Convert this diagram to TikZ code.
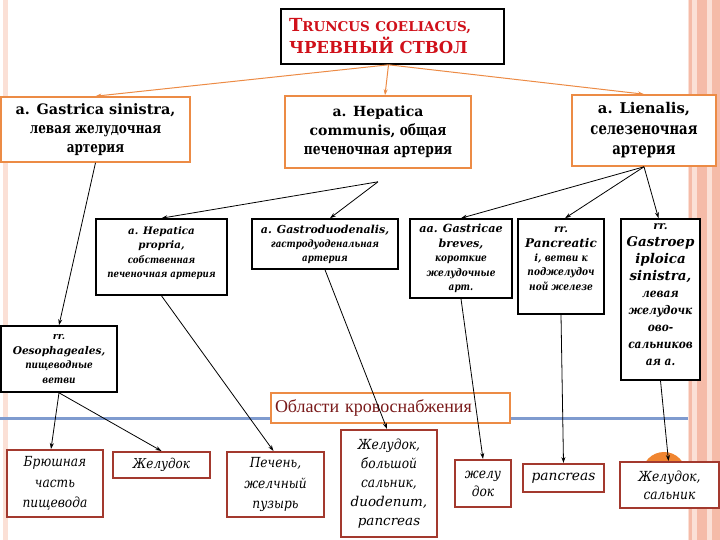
\documentclass[tikz,border=0pt]{standalone}
\usepackage{fontspec}
\setmainfont{DejaVu Serif}
\newfontfamily\libserif{Liberation Serif}
\newfontfamily\cyra{DejaVu Serif}[FakeStretch=0.8]
\newfontfamily\cyrb{DejaVu Serif}[FakeStretch=0.85]
\newfontfamily\cyrc{DejaVu Serif}[FakeStretch=0.88]
\usetikzlibrary{arrows.meta}
\definecolor{orangeb}{HTML}{EC8B45}
\definecolor{redb}{HTML}{A3392E}
\definecolor{titlered}{HTML}{D0101A}
\definecolor{blueline}{HTML}{7F9BCF}
\definecolor{stripe}{HTML}{F5BBA8}
\definecolor{stripel}{HTML}{FBE0D6}
\definecolor{circ}{HTML}{F08530}
\definecolor{darkred}{HTML}{7A1A1A}
\newcommand{\fs}[2]{\fontsize{#1}{#2}\selectfont}
\newcommand{\lat}[2]{{\rmfamily\fontsize{#1}{#1}\selectfont #2}}
\begin{document}
\begin{tikzpicture}[x=1pt,y=-1pt,
  basebox/.style={fill=white, inner sep=0pt, align=center},
  obox/.style={basebox, draw=orangeb, line width=1.6pt},
  kbox/.style={basebox, draw=black, line width=1.6pt},
  rbox/.style={basebox, draw=redb, line width=2pt},
  txt/.style={inner sep=0pt, align=center, anchor=north},
  oarr/.style={draw=orangeb, line width=1pt, -{Stealth[length=6pt,width=4pt]}},
  karr/.style={draw=black, line width=0.8pt, -{Stealth[length=6pt,width=4pt]}}]
\useasboundingbox (0,0) rectangle (720,540);
% background decorations
\fill[stripel] (688,0) rectangle (720,540);
\fill[stripe] (689,0) rectangle (691.5,540);
\fill[stripe] (697,0) rectangle (707,540);
\fill[stripe] (712,0) rectangle (720,540);
\fill[stripel] (3,0) rectangle (8,540);
\draw[blueline, line width=3pt] (0,418) -- (688,418);
\fill[circ] (664,474) circle (22);
% top
\node[basebox, draw=black, line width=1.6pt, minimum width=223pt, minimum height=55pt,
  text width=207pt, align=left, text=titlered, font=\bfseries\fs{16.5}{22}] (tc) at (392.5,36.5)
  {{\fs{18}{22}T}{\fs{13.5}{22}RUNCUS COELIACUS,}\\ЧРЕВНЫЙ СТВОЛ};
% first row
\node[obox, minimum width=189pt, minimum height=65pt, font=\cyra\bfseries\fs{15}{19}] (gs) at (95.5,129.5)
  {\lat{14.4}{a. Gastrica sinistra,}\\левая желудочная\\артерия};
\node[obox, minimum width=186pt, minimum height=72pt, font=\cyra\bfseries\fs{15.3}{19}] (hc) at (378,132)
  {\lat{14}{a. Hepatica}\\\lat{14}{communis,} общая\\печеночная артерия};
\node[obox, minimum width=144pt, minimum height=71pt, font=\cyra\bfseries\fs{16.5}{20.5}] (ln) at (644,130.5)
  {\lat{14.8}{a. Lienalis,}\\селезеночная\\артерия};
% second row
\node[kbox, minimum width=131pt, minimum height=76pt] (hp) at (161.5,257) {};
\node[txt, font=\cyrb\bfseries\itshape\fs{10.1}{14.5}] (hpt) at (161.5,226)
  {\lat{10.3}{a. Hepatica}\\\lat{10.3}{propria,}\\собственная\\печеночная артерия};
\node[kbox, minimum width=146pt, minimum height=50pt, font=\cyrb\bfseries\itshape\fs{10.2}{14}] (gd) at (325,244)
  {\lat{11}{a. Gastroduodenalis,}\\гастродуоденальная\\артерия};
\node[kbox, minimum width=102pt, minimum height=79pt, font=\cyrb\bfseries\itshape\fs{10.5}{14.4}] (gb) at (461,258.5)
  {\lat{11.2}{aa. Gastricae}\\\lat{11.2}{breves,}\\короткие\\желудочные\\арт.};
\node[kbox, minimum width=86pt, minimum height=95pt] (pc) at (561,266.5) {};
\node[txt, font=\cyrb\bfseries\itshape\fs{10.6}{14.3}] (pct) at (561,227)
  {\lat{10.6}{rr.}\\\lat{12}{Pancreatic}\\\lat{10}{i,} ветви к\\поджелудоч\\ной железе};
\node[kbox, minimum width=79pt, minimum height=161pt] (ge) at (660.5,299.5) {};
\node[txt, font=\cyrc\bfseries\itshape\fs{12}{17}] (get) at (660.5,223)
  {\lat{11}{rr.}\\\lat{13.4}{Gastroep}\\\lat{13.4}{iploica}\\\lat{13.4}{sinistra,}\\левая\\желудочк\\ово-\\сальников\\ая а.};
\node[kbox, minimum width=116pt, minimum height=66pt, font=\cyrb\bfseries\itshape\fs{10.4}{14.7}] (oe) at (59,359)
  {\lat{9.5}{rr.}\\\lat{10.6}{Oesophageales,}\\пищеводные\\ветви};
% blood supply label
\node[basebox, draw=orangeb, line width=1.6pt, minimum width=239pt, minimum height=30pt,
  text width=231pt, align=left, text=darkred, font=\libserif\fs{18}{20}] (ob) at (390.5,408)
  {Области кровоснабжения};
% bottom row
\node[rbox, minimum width=96pt, minimum height=67pt, font=\cyrc\itshape\fs{13.9}{20.5}] (b1) at (55,483.5)
  {Брюшная\\часть\\пищевода};
\node[rbox, minimum width=97pt, minimum height=26pt, font=\cyrc\itshape\fs{13.6}{20}] (b2) at (161.5,465)
  {Желудок};
\node[rbox, minimum width=97pt, minimum height=65pt, font=\cyrc\itshape\fs{13.9}{20.5}] (b3) at (275.5,484.5)
  {Печень,\\желчный\\пузырь};
\node[rbox, minimum width=96pt, minimum height=107pt, font=\cyrc\itshape\fs{13.9}{19}] (b4) at (389,483.5)
  {Желудок,\\большой\\сальник,\\\lat{13.5}{duodenum,}\\\lat{13.5}{pancreas}};
\node[rbox, minimum width=56pt, minimum height=47pt, font=\cyrc\itshape\fs{13.9}{18}] (b5) at (483,483.5)
  {желу\\док};
\node[rbox, minimum width=81pt, minimum height=28pt, font=\itshape\fs{13.8}{18}] (b6) at (563.5,478)
  {pancreas};
\node[rbox, minimum width=99pt, minimum height=46pt, font=\cyrc\itshape\fs{13.9}{18}] (b7) at (669.5,485)
  {Желудок,\\сальник};
% connectors
\coordinate (tcs) at ([xshift=-4pt]tc.south);
\draw[oarr] (tcs) -- (gs.north);
\draw[oarr] (tcs) -- ([xshift=7pt]hc.north);
\draw[oarr] (tcs) -- (ln.north);
\coordinate (hcs) at ([yshift=-13pt]hc.south);
\draw[karr] (hcs) -- (hp.north);
\draw[karr] (hcs) -- ([xshift=5pt]gd.north);
\draw[karr] (ln.south) -- (gb.north);
\draw[karr] (ln.south) -- ([xshift=4pt]pc.north);
\draw[karr] (ln.south) -- ([xshift=-2pt]ge.north);
\draw[karr] (gs.south) -- (oe.north);
\draw[karr] (oe.south) -- ([xshift=-4pt]b1.north);
\draw[karr] (oe.south) -- (b2.north);
\draw[karr] (hp.south) -- ([xshift=-2pt]b3.north);
\draw[karr] (gd.south) -- ([xshift=-2pt]b4.north);
\draw[karr] (gb.south) -- (b5.north);
\draw[karr] (pc.south) -- (b6.north);
\draw[karr] (ge.south) -- ([xshift=-1pt]b7.north);
\end{tikzpicture}
\end{document}
